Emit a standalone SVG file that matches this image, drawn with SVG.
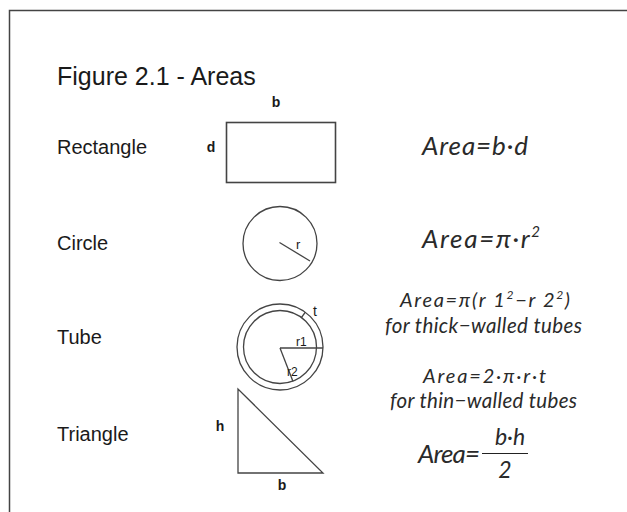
<svg xmlns="http://www.w3.org/2000/svg" width="627" height="512" viewBox="0 0 627 512">
<style>
.lbl{font-family:"Liberation Sans",Arial,sans-serif;font-size:20px;fill:#1a1a1a}
.dim{font-family:"Liberation Sans",Arial,sans-serif;font-size:14px;font-weight:bold;fill:#1a1a1a}
.sm{font-family:"Liberation Sans",Arial,sans-serif;fill:#1a1a1a}
.f{font-family:Lato,"Open Sans",sans-serif;font-style:italic;fill:#2a2a2a}
.shape{fill:none;stroke:#444;stroke-width:1.3}
</style>
<rect width="627" height="512" fill="#fff"/>
<path d="M9.5 512 V10.5 H627" fill="none" stroke="#444" stroke-width="1.5"/>
<text x="57" y="85" class="lbl" style="font-size:25px">Figure 2.1 - Areas</text>

<g id="rectangle">
<text x="57" y="154" class="lbl">Rectangle</text>
<rect x="226.5" y="122.5" width="109" height="60" class="shape" style="stroke-width:1.6"/>
<text x="276" y="107" class="dim" text-anchor="middle">b</text>
<text x="211" y="152" class="dim" text-anchor="middle">d</text>
<text x="422" y="155" class="f" style="font-size:26px" textLength="106" lengthAdjust="spacing">Area=b·d</text>
</g>

<g id="circle">
<text x="57" y="250" class="lbl">Circle</text>
<circle cx="280" cy="243.5" r="37" class="shape"/>
<line x1="279.5" y1="242.5" x2="310" y2="261" class="shape"/>
<text x="296" y="249" class="sm" style="font-size:13px">r</text>
<text x="422" y="248" class="f" style="font-size:26px" textLength="118" lengthAdjust="spacing">Area=π·r<tspan dy="-11" style="font-size:15px">2</tspan></text>
</g>

<g id="tube">
<text x="57" y="344" class="lbl">Tube</text>
<circle cx="280" cy="347" r="43" class="shape"/>
<circle cx="280" cy="347" r="36.5" class="shape"/>
<line x1="280" y1="348" x2="323" y2="348" class="shape"/>
<line x1="280" y1="348" x2="293" y2="381.5" class="shape"/>
<line x1="301.5" y1="317.5" x2="305.3" y2="312.2" class="shape"/>
<text x="313" y="316" class="sm" style="font-size:14px">t</text>
<text x="296" y="346" class="sm" style="font-size:12px">r1</text>
<text x="287" y="376" class="sm" style="font-size:12px">r2</text>
<text x="400" y="307" class="f" style="font-size:20px" textLength="170" lengthAdjust="spacing">Area=π(r 1<tspan dy="-8" style="font-size:12px">2</tspan><tspan dy="8">−r 2</tspan><tspan dy="-8" style="font-size:12px">2</tspan><tspan dy="8">)</tspan></text>
<text x="385" y="333" class="f" style="font-size:20.5px" textLength="197" lengthAdjust="spacing">for thick−walled tubes</text>
<text x="423" y="383" class="f" style="font-size:20px" textLength="123" lengthAdjust="spacing">Area=2·π·r·t</text>
<text x="390" y="408" class="f" style="font-size:20.5px" textLength="187" lengthAdjust="spacing">for thin−walled tubes</text>
</g>

<g id="triangle">
<text x="57" y="441" class="lbl">Triangle</text>
<path d="M238 389 V473 H323 Z" class="shape"/>
<text x="220" y="431" class="dim" text-anchor="middle">h</text>
<text x="282" y="490" class="dim" text-anchor="middle">b</text>
<text x="418" y="463" class="f" style="font-size:26px" textLength="62" lengthAdjust="spacing">Area=</text>
<text x="510" y="445" class="f" style="font-size:23px" text-anchor="middle">b·h</text>
<line x1="482" y1="453.5" x2="528" y2="453.5" stroke="#222" stroke-width="1.2"/>
<text x="505" y="478" class="f" style="font-size:23px" text-anchor="middle">2</text>
</g>
</svg>
